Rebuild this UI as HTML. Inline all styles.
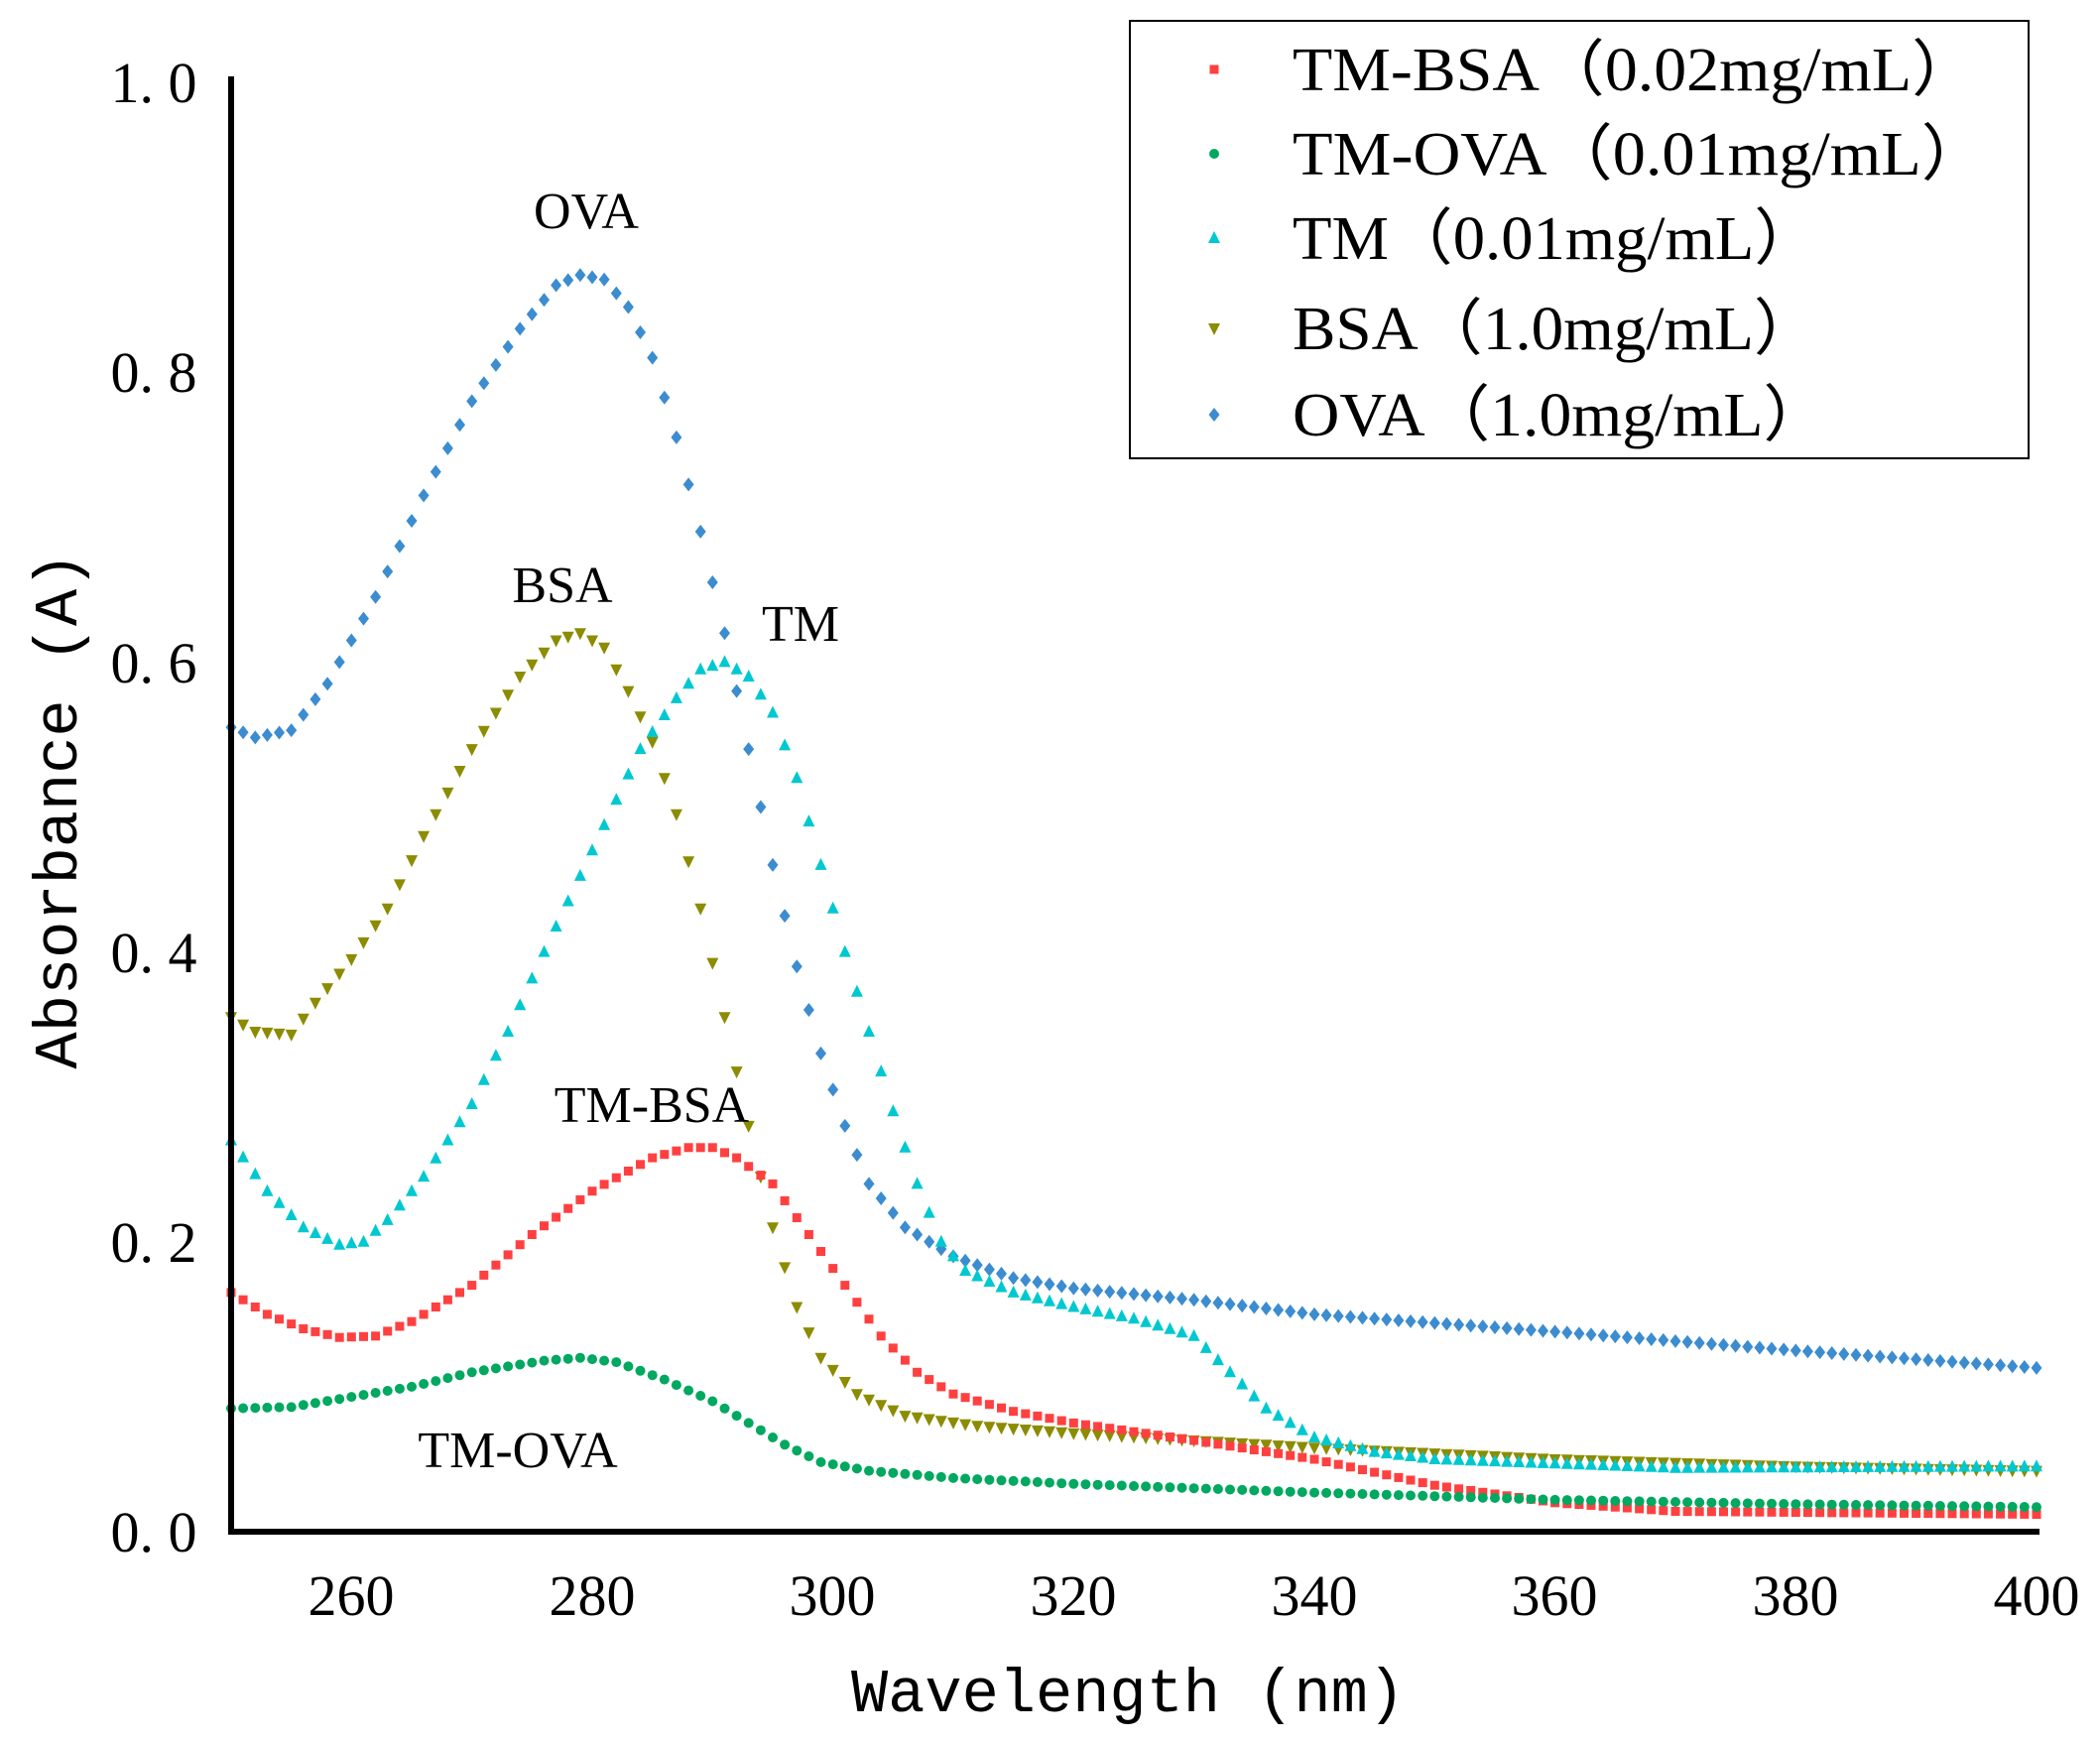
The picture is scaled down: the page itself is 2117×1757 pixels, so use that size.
<!DOCTYPE html>
<html><head><meta charset="utf-8">
<style>
html,body{margin:0;padding:0;background:#fff;}
svg{display:block;}
.t{font-family:"Liberation Serif",serif;fill:#000;}
.m{font-family:"Liberation Mono",monospace;fill:#000;}
</style></head>
<body>
<svg id="s" width="2117" height="1757" xmlns="http://www.w3.org/2000/svg">
<rect width="2117" height="1757" fill="#fff"/>
<g id="data"></g>
<line x1="233" y1="77" x2="233" y2="1547" stroke="#000" stroke-width="6"/>
<line x1="230" y1="1544" x2="2056" y2="1544" stroke="#000" stroke-width="6"/>
<g class="t" font-size="58" text-anchor="middle">
<text x="155" y="103">1. 0</text>
<text x="155" y="395">0. 8</text>
<text x="155" y="688">0. 6</text>
<text x="155" y="980">0. 4</text>
<text x="155" y="1272">0. 2</text>
<text x="155" y="1564">0. 0</text>
<text x="354" y="1628">260</text>
<text x="597" y="1628">280</text>
<text x="839" y="1628">300</text>
<text x="1082" y="1628">320</text>
<text x="1325" y="1628">340</text>
<text x="1567" y="1628">360</text>
<text x="1810" y="1628">380</text>
<text x="2053" y="1628">400</text>
</g>
<text class="m" font-size="62" x="1137" y="1725" text-anchor="middle">Wavelength (nm)</text>
<text class="m" font-size="62" transform="translate(77,817) rotate(-90)" text-anchor="middle">Absorbance (A)</text>
<g class="t" font-size="52" text-anchor="middle">
<text x="591" y="230">OVA</text>
<text x="567" y="607">BSA</text>
<text x="807" y="646">TM</text>
<text x="657" y="1131">TM-BSA</text>
<text x="522" y="1479">TM-OVA</text>
</g>
<rect x="1139" y="21" width="906" height="441" fill="#fff" stroke="#000" stroke-width="2"/>
<g id="leg"></g>
<g class="t" font-size="62">
<text x="1303" y="91" textLength="690" lengthAdjust="spacingAndGlyphs">TM-BSA（0.02mg/mL）</text>
<text x="1303" y="176" textLength="700" lengthAdjust="spacingAndGlyphs">TM-OVA（0.01mg/mL）</text>
<text x="1303" y="261" textLength="530" lengthAdjust="spacingAndGlyphs">TM（0.01mg/mL）</text>
<text x="1303" y="352" textLength="530" lengthAdjust="spacingAndGlyphs">BSA（1.0mg/mL）</text>
<text x="1303" y="439" textLength="540" lengthAdjust="spacingAndGlyphs">OVA（1.0mg/mL）</text>
</g>
</svg>
<script>
var S={
tmbsa:{c:"#ff4040",sh:"sq",k:[[250,.165],[253,.15],[256,.14],[259,.134],[262,.135],[265,.145],[270,.17],[275,.205],[280,.235],[285,.258],[288,.265],[290,.265],[292,.258],[295,.24],[298,.205],[301,.17],[304,.135],[307,.11],[310,.095],[315,.083],[320,.075],[330,.063],[340,.05],[350,.032],[360,.02],[370,.014],[400,.012]]},
tmova:{c:"#00a860",sh:"ci",k:[[250,.085],[255,.086],[260,.093],[265,.1],[270,.11],[276,.118],[279,.12],[282,.117],[286,.105],[290,.09],[293,.075],[296,.06],[299,.048],[303,.042],[310,.037],[320,.033],[340,.027],[360,.022],[380,.019],[400,.017]]},
tm:{c:"#00c8d0",sh:"up",k:[[250,.27],[253,.235],[256,.21],[259,.198],[261,.2],[263,.215],[266,.245],[270,.295],[273,.345],[276,.4],[280,.47],[284,.54],[287,.575],[289,.595],[291,.6],[293,.59],[295,.565],[297,.52],[299,.46],[301,.4],[303,.345],[305,.29],[307,.24],[309,.2],[311,.18],[315,.165],[320,.155],[325,.147],[330,.135],[333,.11],[336,.085],[340,.065],[345,.055],[350,.05],[360,.047],[370,.044],[400,.045]]},
bsa:{c:"#8c8c00",sh:"dn",k:[[250,.355],[252,.345],[255,.343],[257,.365],[260,.395],[263,.43],[266,.48],[270,.54],[274,.59],[277,.615],[279,.62],[281,.61],[283,.58],[285,.545],[287,.495],[289,.43],[291,.355],[293,.28],[295,.21],[297,.155],[299,.12],[302,.095],[306,.08],[312,.073],[320,.068],[340,.058],[360,.05],[380,.045],[400,.042]]},
ova:{c:"#3c8cd0",sh:"di",k:[[250,.555],[252,.548],[255,.553],[258,.585],[262,.645],[266,.715],[270,.78],[274,.83],[277,.86],[279,.867],[281,.864],[283,.845],[285,.81],[287,.755],[289,.69],[291,.62],[293,.54],[295,.46],[297,.39],[299,.33],[301,.28],[303,.24],[306,.21],[310,.19],[315,.175],[320,.168],[330,.16],[340,.15],[360,.138],[380,.125],[400,.113]]}
};
function interp(k,x){for(var i=0;i<k.length-1;i++){if(x>=k[i][0]&&x<=k[i+1][0]){var t=(x-k[i][0])/(k[i+1][0]-k[i][0]);return k[i][1]+t*(k[i+1][1]-k[i][1]);}}return k[k.length-1][1];}
function f(v){return (Math.round(v*10)/10).toString();}
function mk(sh,c,x,y){
if(sh=="sq")return '<rect x="'+f(x-4.5)+'" y="'+f(y-4.5)+'" width="9" height="9" fill="'+c+'"/>';
if(sh=="ci")return '<circle cx="'+f(x)+'" cy="'+f(y)+'" r="5" fill="'+c+'"/>';
if(sh=="up")return '<polygon points="'+f(x)+','+f(y-7)+' '+f(x+6)+','+f(y+5)+' '+f(x-6)+','+f(y+5)+'" fill="'+c+'"/>';
if(sh=="dn")return '<polygon points="'+f(x)+','+f(y+7)+' '+f(x+6)+','+f(y-5)+' '+f(x-6)+','+f(y-5)+'" fill="'+c+'"/>';
return '<polygon points="'+f(x)+','+f(y-7)+' '+f(x+5.5)+','+f(y)+' '+f(x)+','+f(y+7)+' '+f(x-5.5)+','+f(y)+'" fill="'+c+'"/>';}
var h='',order=["ova","bsa","tm","tmbsa","tmova"];
order.forEach(function(n){var s=S[n];for(var w=250;w<=400;w++){var x=233+(w-250)*12.133,y=1544-interp(s.k,w)*1461;h+=mk(s.sh,s.c,x,y);}});
document.getElementById('data').innerHTML=h;
var l='',ly=[70,155,240,331,418],ln=["tmbsa","tmova","tm","bsa","ova"];
ln.forEach(function(n,i){l+=mk(S[n].sh,S[n].c,1224,ly[i]);});
document.getElementById('leg').innerHTML=l;
</script>
</body></html>
